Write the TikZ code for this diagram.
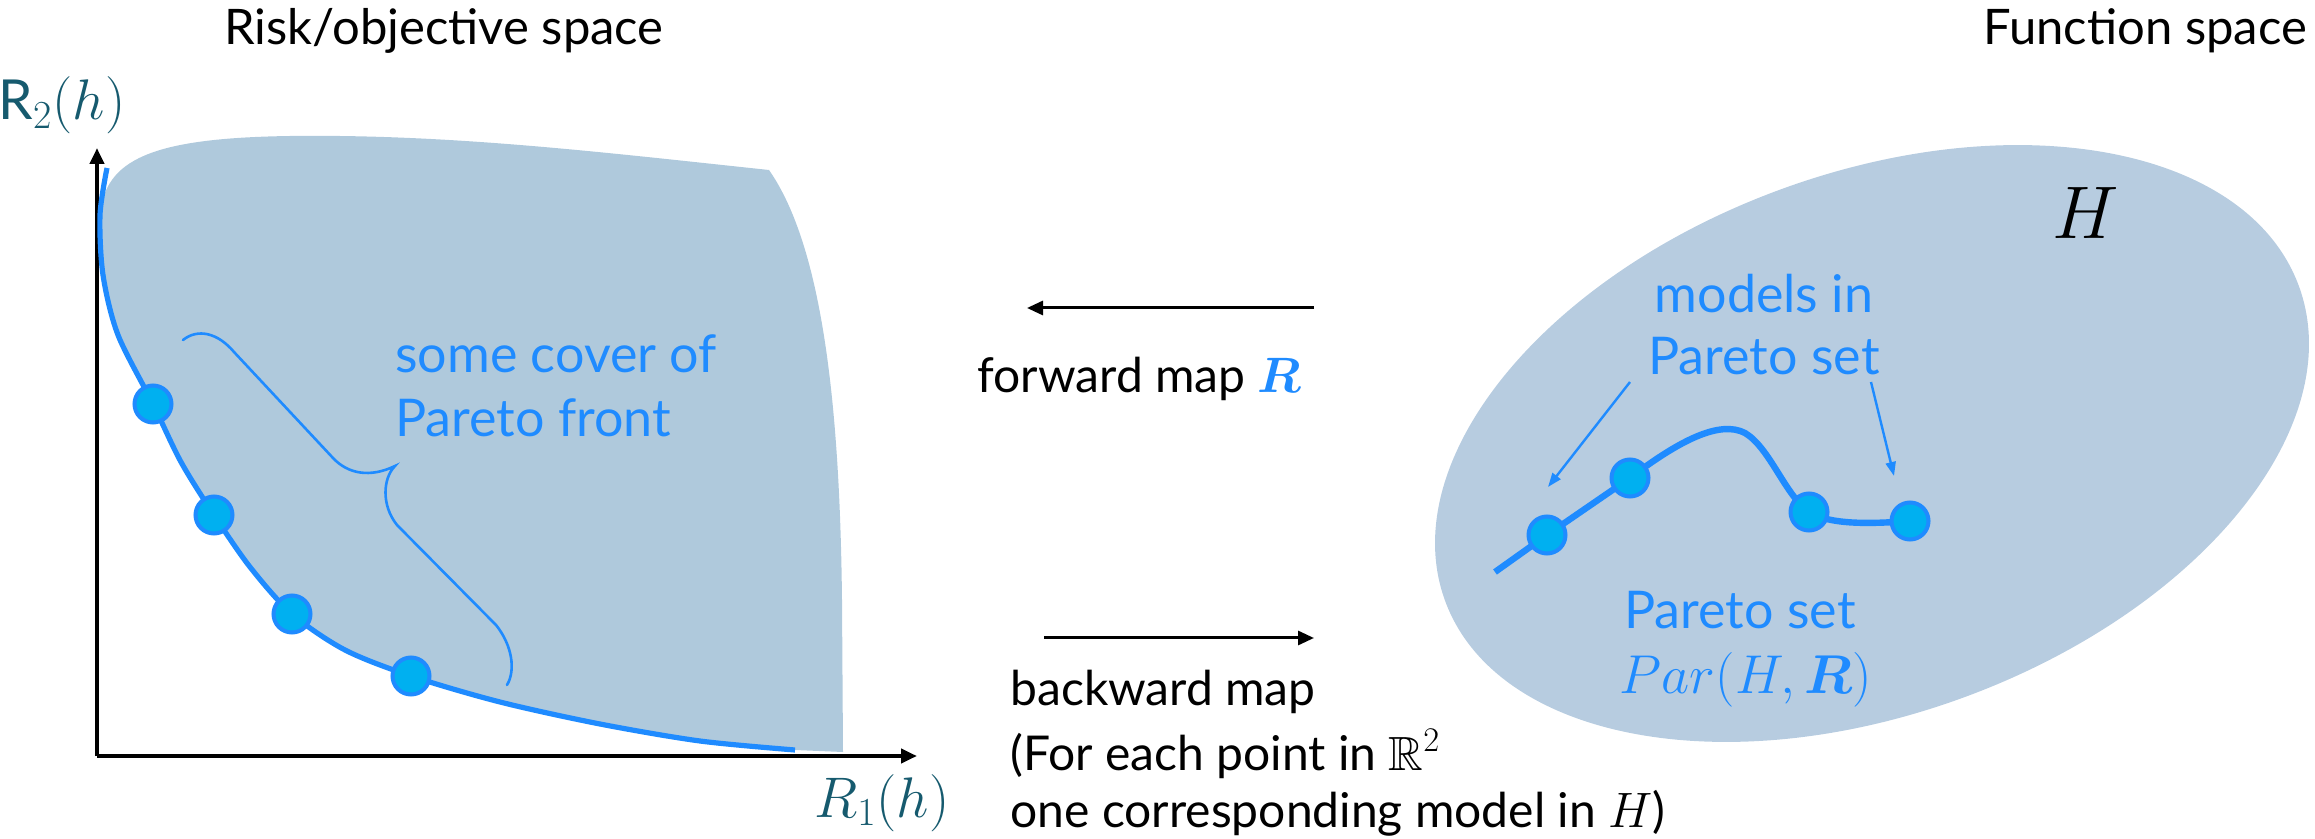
\documentclass[tikz,border=0pt]{standalone}
\usepackage{amsmath,amssymb,bm}
\usepackage{fontspec}
\setmainfont{Lato}
\usetikzlibrary{arrows.meta}
\definecolor{regfill}{HTML}{AFC9DC}
\definecolor{ellfill}{HTML}{B7CCE0}
\definecolor{pblue}{HTML}{1F8BFF}
\definecolor{dotfill}{HTML}{00B0F0}
\definecolor{axlab}{HTML}{165A6E}
\tikzset{
  titletxt/.style={font=\fontsize{24.5}{29}\selectfont, text=black, inner sep=0pt},
  blacktxt/.style={font=\fontsize{24}{29}\selectfont, text=black, inner sep=0pt, anchor=base west},
  bluetxt/.style={font=\fontsize{26}{31}\selectfont, text=pblue, inner sep=0pt},
  axlabel/.style={font=\fontsize{24}{29}\selectfont, text=axlab, inner sep=0pt, anchor=base, scale=1.15},
  axisline/.style={line width=2pt, black, -{Triangle[length=8pt,width=7pt]}},
  maparrow/.style={line width=1.5pt, black, -{Triangle[length=8pt,width=7pt]}},
  notearrow/.style={line width=1.2pt, pblue, -{Triangle[length=7pt,width=5pt]}},
  frontline/.style={line width=2.6pt, pblue},
  setline/.style={line width=3.2pt, pblue},
  bracestyle/.style={line width=1.3pt, pblue, line cap=round},
  pdot/.style={circle, draw=pblue, fill=dotfill, line width=2pt, minimum size=18.5pt, inner sep=0pt},
}
\begin{document}
\begin{tikzpicture}[x=0.5pt,y=-0.5pt]
\useasboundingbox (0,0) rectangle (2315,839);

% ---------- left: risk/objective space ----------
\node[titletxt, anchor=base] (ltitle) at (444,45) {Risk/objective space};

\fill[regfill] plot[smooth] coordinates {(100,215) (103,275) (118,335) (153,404) (181,462) (214,515) (250,567) (292,614) (345,650) (411,676) (500,702) (600,724) (700,741) (795,750)}
  -- (843,752) -- (842,600) .. controls (840,420) and (825,250) .. (769,170)
  .. controls (600,152) and (450,134) .. (290,136)
  .. controls (150,138) and (105,160) .. (100,215) -- cycle;

\coordinate (origin) at (97,756);
\coordinate (ytip) at (97,148);
\coordinate (xtip) at (917,756);
\draw[axisline] (origin) -- (ytip);
\draw[axisline] (origin) -- (xtip);
\node[axlabel] (r2) at (62,120) {$\mathrm{R}_2(h)$};
\node[axlabel] (r1) at (882,817) {$R_1(h)$};

\draw[frontline] plot[smooth] coordinates {(107,168) (100,215) (103,275) (118,335) (153,404) (181,462) (214,515) (250,567) (292,614) (345,650) (411,676) (500,702) (600,724) (700,741) (795,750)};

\node[pdot] (f1) at (153,404) {};
\node[pdot] (f2) at (214,515) {};
\node[pdot] (f3) at (292,614) {};
\node[pdot] (f4) at (411,676) {};

\draw[bracestyle] (183,340) .. controls (198,328) and (218,333) .. (234,352)
  -- (333,458) .. controls (348,474) and (370,478) .. (395,466)
  .. controls (383,478) and (381,505) .. (397,525)
  -- (496,625) .. controls (512,645) and (516,670) .. (507,685);

\node[bluetxt, anchor=base west] (cov1) at (395,373) {some cover of};
\node[bluetxt, anchor=base west] (cov2) at (395,437) {Pareto front};

% ---------- middle: maps ----------
\coordinate (fwdstart) at (1314,308);
\coordinate (fwdend) at (1027,308);
\draw[maparrow] (fwdstart) -- (fwdend);
\node[blacktxt] (fwdtxt) at (977,393) {forward map \textcolor{pblue}{$\bm{R}$}};

\coordinate (bwdstart) at (1044,638);
\coordinate (bwdend) at (1314,638);
\draw[maparrow] (bwdstart) -- (bwdend);
\node[blacktxt] (bwd1) at (1010,705) {backward map};
\node[blacktxt] (bwd2) at (1010,770) {(For each point in $\mathbb{R}^2$};
\node[blacktxt] (bwd3) at (1010,827) {one corresponding model in $H$)};

% ---------- right: function space ----------
\node[titletxt, anchor=base] (rtitle) at (2145,45) {Function space};

\fill[ellfill, rotate around={20.3:(1872,443.5)}] (1872,443.5) ellipse [x radius=455, y radius=270];

\node[inner sep=0pt, font=\fontsize{24}{29}\selectfont, scale=1.5] (hlab) at (2086,213) {$H$};

\draw[setline] (1495,572) -- (1547,535) -- (1630,478)
  .. controls (1680,440) and (1720,420) .. (1745,433)
  .. controls (1770,448) and (1785,495) .. (1809,512)
  .. controls (1830,525) and (1870,524) .. (1910,521);

\node[pdot] (s1) at (1547,535) {};
\node[pdot] (s2) at (1630,478) {};
\node[pdot] (s3) at (1809,512) {};
\node[pdot] (s4) at (1910,521) {};

\node[bluetxt, anchor=base] (mod1) at (1764,313) {models in};
\node[bluetxt, anchor=base] (mod2) at (1764,375) {Pareto set};

\coordinate (na1s) at (1630,382);
\coordinate (na1e) at (1548,487);
\coordinate (na2s) at (1871,382);
\coordinate (na2e) at (1894,476);
\draw[notearrow] (na1s) -- (na1e);
\draw[notearrow] (na2s) -- (na2e);

\node[bluetxt, anchor=base] (ps1) at (1740,629) {Pareto set};
\node[bluetxt, anchor=base, scale=1.1] (ps2) at (1746,693) {$Par(H,\bm{R})$};
\end{tikzpicture}
\end{document}
